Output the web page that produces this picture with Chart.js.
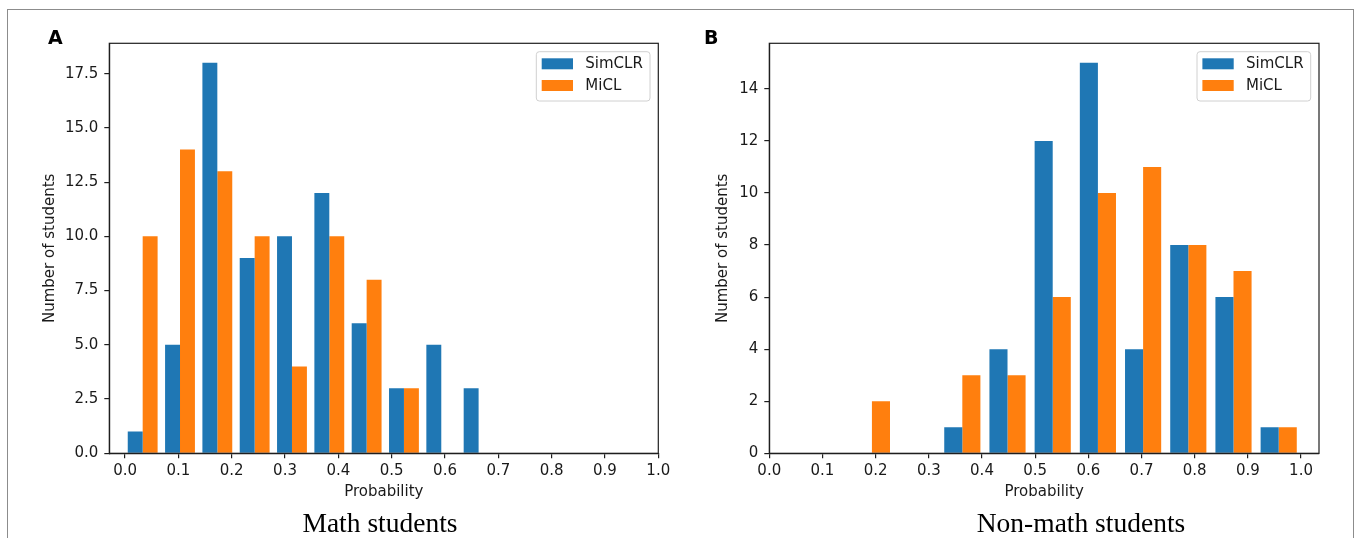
<!DOCTYPE html>
<html><head><meta charset="utf-8">
<script src="https://cdn.jsdelivr.net/npm/chart.js@4.4.1/dist/chart.umd.min.js"></script>
<style>
html,body{margin:0;padding:0;background:#fff;width:1357px;height:538px;overflow:hidden;position:relative;}
#frame{position:absolute;left:7px;top:9px;width:1347px;height:620px;border:1.5px solid #8c8c8c;box-sizing:border-box;}
canvas{position:absolute;top:0;}
.letter{position:absolute;font:bold 19px 'DejaVu Sans';color:#000;line-height:1;}
.caption{position:absolute;font:27.5px 'Liberation Serif';color:#000;white-space:nowrap;transform:translateX(-50%);line-height:1;}
</style></head>
<body>
<div id="frame"></div>
<canvas id="cA" width="680" height="538" style="left:0px;width:680px;height:538px"></canvas>
<canvas id="cB" width="677" height="538" style="left:680px;width:677px;height:538px"></canvas>
<div class="letter" style="left:48px;top:28px">A</div>
<div class="letter" style="left:704px;top:28px">B</div>
<div class="caption" style="left:380px;top:509px">Math students</div>
<div class="caption" style="left:1081px;top:509px">Non-math students</div>
<script>
// ---- data ----
const seriesNames = ['SimCLR', 'MiCL'];
const mathBinCenters = [0.033, 0.103, 0.173, 0.243, 0.313, 0.383, 0.453, 0.523, 0.593, 0.663];
const mathSimCLR = [1, 5, 18, 9, 10, 12, 6, 3, 5, 3];
const mathMiCL = [10, 14, 13, 10, 4, 10, 8, 3, 0, 0];
const nonMathBinCenters = [0.193, 0.278, 0.363, 0.448, 0.533, 0.618, 0.703, 0.788, 0.873, 0.958];
const nonMathSimCLR = [0, 0, 1, 4, 12, 15, 4, 8, 6, 1];
const nonMathMiCL = [2, 0, 3, 3, 6, 10, 11, 8, 7, 1];
const xTickValues = [0, 0.1, 0.2, 0.3, 0.4, 0.5, 0.6, 0.7, 0.8, 0.9, 1.0];
const xTickLabels = ['0.0', '0.1', '0.2', '0.3', '0.4', '0.5', '0.6', '0.7', '0.8', '0.9', '1.0'];
const mathYTickValues = [0, 2.5, 5, 7.5, 10, 12.5, 15, 17.5];
const mathYTickLabels = ['0.0', '2.5', '5.0', '7.5', '10.0', '12.5', '15.0', '17.5'];
const nonMathYTickValues = [0, 2, 4, 6, 8, 10, 12, 14];
const nonMathYTickLabels = ['0', '2', '4', '6', '8', '10', '12', '14'];
const xTitle = 'Probability';
const yTitle = 'Number of students';

// ---- styles ----
const BLUE = '#1f77b4';
const ORANGE = '#ff7f0e';
const INK = '#1a1a1a';
const SPINE = '#1e1e1e';
const FONT = {family: "'DejaVu Sans'", size: 15};

const framePlugin = {
  id: 'axesFrame',
  afterDatasetsDraw(chart) {
    const a = chart.chartArea, ctx = chart.ctx;
    ctx.save();
    ctx.strokeStyle = SPINE;
    ctx.lineWidth = 1.2;
    ctx.strokeRect(a.left, a.top, a.right - a.left, a.bottom - a.top);
    ctx.restore();
  }
};

const innerLegend = {
  id: 'innerLegend',
  afterDraw(chart) {
    const a = chart.chartArea, ctx = chart.ctx;
    const w = 113.7, h = 49.3;
    const x0 = a.right - 8.3 - w, y0 = a.top + 8.4;
    ctx.save();
    ctx.beginPath();
    ctx.roundRect(x0, y0, w, h, 3);
    ctx.fillStyle = 'rgba(255,255,255,0.8)';
    ctx.fill();
    ctx.strokeStyle = '#d0d0d0';
    ctx.lineWidth = 1;
    ctx.stroke();
    ctx.font = "15px 'DejaVu Sans'";
    ctx.textBaseline = 'middle';
    ctx.textAlign = 'left';
    chart.data.datasets.forEach((ds, i) => {
      const sy = y0 + 6.6 + i * 21.7;
      ctx.fillStyle = ds.backgroundColor;
      ctx.fillRect(x0 + 5.4, sy, 31.3, 11);
      ctx.fillStyle = INK;
      ctx.fillText(ds.label, x0 + 49, sy + 5.8);
    });
    ctx.restore();
  }
};

function makeChart(id, cfg) {
  const toPts = (vals) => cfg.centers.map((x, i) => ({x: x, y: vals[i]}));
  return new Chart(document.getElementById(id), {
    type: 'bar',
    data: {
      datasets: [
        {label: seriesNames[0], data: toPts(cfg.s1), backgroundColor: BLUE, borderWidth: 0},
        {label: seriesNames[1], data: toPts(cfg.s2), backgroundColor: ORANGE, borderWidth: 0}
      ]
    },
    options: {
      responsive: false,
      animation: false,
      devicePixelRatio: 1,
      categoryPercentage: 0.8,
      barPercentage: 1.0,
      layout: {padding: {left: 0, right: cfg.padRight, top: 43.3, bottom: 0}},
      plugins: {legend: {display: false}, tooltip: {enabled: false}},
      scales: {
        x: {
          type: 'linear',
          min: cfg.xmin, max: cfg.xmax,
          offset: false,
          afterFit: (s) => { s.height = 84.7; },
          afterBuildTicks: (s) => { s.ticks = xTickValues.map(v => ({value: v})); },
          ticks: {
            autoSkip: false, maxRotation: 0, minRotation: 0, padding: 4,
            font: FONT, color: INK,
            callback: (v) => xTickLabels[xTickValues.indexOf(v)]
          },
          grid: {display: true, drawOnChartArea: false, drawTicks: true, tickLength: 5, offset: false, color: SPINE, lineWidth: 1.2},
          border: {display: true, color: SPINE, width: 1.2},
          title: {display: true, text: xTitle, font: FONT, color: INK, padding: {top: 0, bottom: 36.5}}
        },
        y: {
          type: 'linear',
          min: 0, max: cfg.ymax,
          afterFit: (s) => { s.width = cfg.axisLeft; },
          afterBuildTicks: (s) => { s.ticks = cfg.yTicks.map(v => ({value: v})); },
          ticks: {
            autoSkip: false, padding: 6, font: FONT, color: INK,
            callback: (v) => cfg.yLabels[cfg.yTicks.indexOf(v)]
          },
          grid: {display: true, drawOnChartArea: false, drawTicks: true, tickLength: 5, color: SPINE, lineWidth: 1.2},
          border: {display: true, color: SPINE, width: 1.2},
          title: {display: true, text: yTitle, font: FONT, color: INK, padding: {top: cfg.yTitlePad, bottom: 0}}
        }
      }
    },
    plugins: [framePlugin, innerLegend]
  });
}

makeChart('cA', {
  centers: mathBinCenters, s1: mathSimCLR, s2: mathMiCL,
  xmin: -0.0296, xmax: 1.0, ymax: 18.9,
  yTicks: mathYTickValues, yLabels: mathYTickLabels,
  axisLeft: 109.3, padRight: 21.7, yTitlePad: 41
});
makeChart('cB', {
  centers: nonMathBinCenters, s1: nonMathSimCLR, s2: nonMathMiCL,
  xmin: 0, xmax: 1.0338, ymax: 15.75,
  yTicks: nonMathYTickValues, yLabels: nonMathYTickLabels,
  axisLeft: 89.3, padRight: 38, yTitlePad: 34
});
</script>
</body></html>
